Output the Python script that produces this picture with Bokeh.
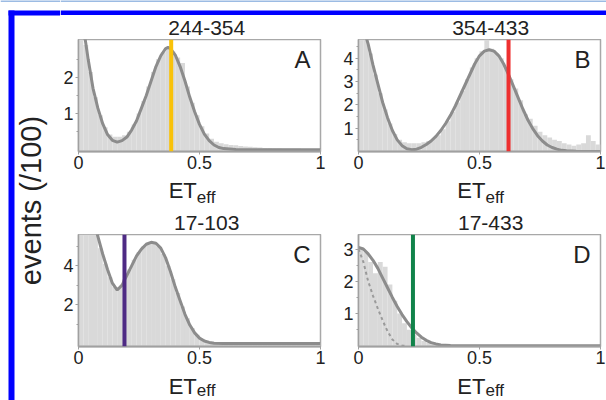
import math
from bokeh.plotting import figure
from bokeh.layouts import row, column
from bokeh.models import Range1d, FixedTicker, CustomJSTickFormatter, Label, Span
from bokeh.embed import file_html
from bokeh.resources import INLINE
from bokeh.core.properties import value

FONT = "Liberation Sans"
TXT = "#222222"

# ---------------- data ----------------
BIN_W = 0.02
bin_centers = [round(0.01 + 0.02 * i, 2) for i in range(50)]

titles = ["244-354", "354-433", "17-103", "17-433"]
letters = ["A", "B", "C", "D"]
marker_x = [0.383, 0.62, 0.19, 0.225]
marker_colors = ["#f9c20a", "#ee3030", "#4e2a84", "#11834a"]
y_label = "events (/100)"
x_label_main = "ET"
x_label_sub = "eff"

x_ticks = [0, 0.5, 1]
y_ticks_A = [1, 2]
y_ticks_B = [1, 2, 3, 4]
y_ticks_C = [2, 4]
y_ticks_D = [1, 2, 3]

hist_A = [3.3, 2.9, 2.15, 1.45, 0.95, 0.62, 0.42, 0.36, 0.36, 0.4,
          0.5, 0.7, 1.0, 1.35, 1.75, 2.15, 2.5, 2.7, 2.8, 2.72,
          2.55, 2.4, 1.75, 1.3, 0.95, 0.65, 0.45, 0.3, 0.22, 0.18,
          0.15, 0.13, 0.12, 0.1, 0.09, 0.08, 0.07, 0.06, 0.05, 0.05,
          0.04, 0.04, 0.03, 0.03, 0.03, 0.03, 0.02, 0.02, 0.02, 0.02]
hist_B = [5.0, 5.0, 4.2, 3.3, 2.5, 1.8, 1.2, 0.75, 0.5, 0.4,
          0.35, 0.35, 0.35, 0.4, 0.45, 0.55, 0.7, 0.95, 1.3, 1.7,
          2.1, 2.6, 3.1, 3.6, 4.0, 4.3, 4.8, 4.4, 4.2, 4.0,
          3.6, 3.1, 2.7, 2.2, 1.6, 1.4, 1.1, 0.85, 0.7, 0.6,
          0.5, 0.45, 0.35, 0.3, 0.25, 0.3, 0.35, 0.7, 0.45, 0.3]
hist_C = [5.7, 5.7, 5.7, 5.6, 4.9, 4.1, 3.4, 2.9, 2.9, 3.3,
          3.8, 4.3, 4.7, 5.0, 5.15, 5.2, 5.0, 4.6, 4.0, 3.3,
          2.6, 1.9, 1.3, 0.8, 0.45, 0.25, 0.15, 0.1, 0.08, 0.07,
          0.06, 0.06, 0.06, 0.05, 0.05, 0.05, 0.05, 0.05, 0.05, 0.05,
          0.05, 0.05, 0.05, 0.05, 0.05, 0.05, 0.05, 0.05, 0.05, 0.05]
hist_D = [3.0, 2.9, 2.6, 2.25, 2.6, 2.45, 1.9, 1.4, 1.0, 0.7,
          0.5, 0.35, 0.25, 0.15, 0.1, 0.06, 0.04, 0.02, 0.01, 0.01,
          0.01, 0.01, 0.01, 0.01, 0.01, 0.01, 0.01, 0.01, 0.01, 0.01,
          0.01, 0.01, 0.01, 0.01, 0.01, 0.01, 0.01, 0.01, 0.01, 0.01,
          0.01, 0.01, 0.01, 0.01, 0.01, 0.01, 0.01, 0.01, 0.01, 0.01]

fit_x_A = [0.0, 0.02, 0.04, 0.06, 0.08, 0.10, 0.12, 0.14, 0.16, 0.18, 0.20, 0.22,
           0.24, 0.26, 0.28, 0.30, 0.32, 0.34, 0.36, 0.37, 0.38, 0.40, 0.42, 0.44,
           0.46, 0.48, 0.50, 0.52, 0.54, 0.56, 0.58, 0.60, 0.65, 0.70, 1.0]
fit_y_A = [4.3, 3.4, 2.5, 1.7, 1.15, 0.72, 0.42, 0.26, 0.21, 0.25, 0.35, 0.55,
           0.8, 1.15, 1.5, 1.9, 2.3, 2.6, 2.8, 2.83, 2.8, 2.62, 2.3, 1.9,
           1.45, 1.05, 0.7, 0.43, 0.25, 0.13, 0.06, 0.03, 0.005, 0.0, 0.0]

fit_x_B = [0.0, 0.02, 0.04, 0.06, 0.08, 0.10, 0.12, 0.14, 0.16, 0.18, 0.20, 0.22,
           0.24, 0.26, 0.28, 0.30, 0.32, 0.34, 0.36, 0.38, 0.40, 0.42, 0.44, 0.46,
           0.48, 0.50, 0.52, 0.54, 0.56, 0.58, 0.60, 0.62, 0.64, 0.66, 0.68, 0.70,
           0.72, 0.74, 0.76, 0.78, 0.80, 0.82, 0.84, 0.86, 0.90, 1.0]
fit_y_B = [6.0, 5.3, 4.6, 3.7, 2.9, 2.1, 1.45, 0.9, 0.5, 0.25, 0.12, 0.08,
           0.1, 0.18, 0.3, 0.45, 0.65, 0.9, 1.2, 1.55, 1.95, 2.4, 2.85, 3.3,
           3.75, 4.1, 4.3, 4.36, 4.3, 4.1, 3.75, 3.3, 2.8, 2.3, 1.8, 1.35,
           0.98, 0.68, 0.45, 0.28, 0.17, 0.1, 0.05, 0.03, 0.01, 0.0]

fit_x_C = [0.0, 0.02, 0.04, 0.06, 0.08, 0.10, 0.12, 0.14, 0.16, 0.18, 0.20, 0.22,
           0.24, 0.26, 0.28, 0.30, 0.32, 0.34, 0.36, 0.38, 0.40, 0.42, 0.44, 0.46,
           0.48, 0.50, 0.52, 0.54, 0.56, 0.60, 1.0]
fit_y_C = [9.0, 8.3, 7.4, 6.4, 5.5, 4.6, 3.8, 3.1, 2.75, 3.0, 3.5, 4.0,
           4.5, 4.85, 5.1, 5.2, 5.15, 4.9, 4.4, 3.7, 2.9, 2.2, 1.5, 0.95,
           0.55, 0.28, 0.13, 0.06, 0.02, 0.0, 0.0]

fit_x_D = [0.0, 0.02, 0.04, 0.06, 0.08, 0.10, 0.12, 0.14, 0.16, 0.18, 0.20, 0.22,
           0.24, 0.26, 0.28, 0.30, 0.32, 0.34, 0.38, 0.42, 1.0]
fit_y_D = [3.05, 3.0, 2.85, 2.65, 2.4, 2.1, 1.8, 1.5, 1.22, 0.97, 0.75, 0.56,
           0.4, 0.27, 0.17, 0.1, 0.06, 0.03, 0.01, 0.0, 0.0]

dash_x_D = [0.0, 0.02, 0.04, 0.06, 0.08, 0.10, 0.12, 0.14, 0.16, 0.18, 0.20]
dash_y_D = [3.0, 2.6, 2.0, 1.55, 1.15, 0.78, 0.45, 0.2, 0.06, 0.01, 0.0]

# ---------------- helpers ----------------
fmt = "return tick.toString();"


def pixfig(w, h):
    f = figure(width=w, height=h, x_range=Range1d(0, w), y_range=Range1d(0, h),
               output_backend="svg", toolbar_location=None, tools="",
               x_axis_type=None, y_axis_type=None, min_border=0)
    f.outline_line_color = None
    f.grid.visible = False
    f.background_fill_color = "white"
    f.border_fill_color = "white"
    return f


def panel(hist, fx, fy, letter, mx, mcol, yr, yticks, yminor, bl, br,
          dx=None, dy=None):
    p = figure(frame_width=242, frame_height=112,
               x_range=Range1d(0, 1), y_range=Range1d(*yr),
               output_backend="svg", toolbar_location=None, tools="",
               min_border_left=bl, min_border_right=br,
               min_border_top=0, min_border_bottom=26)
    p.grid.visible = False
    p.outline_line_color = "#a8a8a8"
    p.outline_line_width = 1.5
    p.background_fill_color = "white"
    p.border_fill_color = "white"

    p.vbar(x=bin_centers, top=hist, bottom=yr[0], width=BIN_W,
           fill_color="#d9d9d9", line_color=None)
    if dx is not None:
        p.line(dx, dy, line_color="#9a9a9a", line_width=2, line_dash="3 3")
    p.line(fx, fy, line_color="#8c8c8c", line_width=3)
    p.add_layout(Span(location=mx, dimension="height", line_color=mcol,
                      line_width=4))

    xa = p.xaxis[0]
    xa.ticker = FixedTicker(ticks=x_ticks)
    xa.formatter = CustomJSTickFormatter(code=fmt)
    ya = p.yaxis[0]
    ya.ticker = FixedTicker(ticks=yticks, minor_ticks=yminor)
    ya.formatter = CustomJSTickFormatter(code=fmt)
    for ax in (xa, ya):
        ax.axis_line_color = "#a0a0a0"
        ax.axis_line_width = 1.5
        ax.major_tick_line_color = "#a0a0a0"
        ax.minor_tick_line_color = "#a0a0a0"
        ax.major_tick_in = 0
        ax.major_tick_out = 3
        ax.minor_tick_in = 0
        ax.minor_tick_out = 2
        ax.major_label_text_font = FONT
        ax.major_label_text_font_size = "18px"
        ax.major_label_text_color = TXT
        ax.major_label_standoff = 1
    ya.major_label_standoff = 2
    xa.minor_tick_out = 0
    xa.axis_line_width = 2

    p.add_layout(Label(x=1, y=yr[1], x_offset=-10, y_offset=-20, text=letter,
                       text_align="right", text_baseline="alphabetic",
                       text_font=FONT, text_font_size="24px", text_color=TXT))
    return p


def title_fig(w, h, cx, text):
    f = pixfig(w, h)
    f.text(x=[cx], y=[11.7], text=[text], text_align="center",
           text_baseline="middle", text_font=value(FONT),
           text_font_size="21px", text_color=TXT)
    return f


def xlabel_fig(w, h, split, y_main, y_sub):
    f = pixfig(w, h)
    f.text(x=[split], y=[y_main], text=[x_label_main], text_align="right",
           text_baseline="middle", text_font=value(FONT),
           text_font_size="22px", text_color=TXT)
    f.text(x=[split], y=[y_sub], text=[x_label_sub], text_align="left",
           text_baseline="middle", text_font=value(FONT),
           text_font_size="17px", text_color=TXT)
    return f


pA = panel(hist_A, fit_x_A, fit_y_A, letters[0], marker_x[0], marker_colors[0],
           (-0.05, 3.05), y_ticks_A, [0.5, 1.5, 2.5], 18, 10)
pB = panel(hist_B, fit_x_B, fit_y_B, letters[1], marker_x[1], marker_colors[1],
           (0.0, 4.8), y_ticks_B, [0.5, 1.5, 2.5, 3.5, 4.5], 28, 8)
pC = panel(hist_C, fit_x_C, fit_y_C, letters[2], marker_x[2], marker_colors[2],
           (-0.15, 5.6), y_ticks_C, [1, 3, 5], 18, 10)
pD = panel(hist_D, fit_x_D, fit_y_D, letters[3], marker_x[3], marker_colors[3],
           (-0.02, 3.45), y_ticks_D, [0.5, 1.5, 2.5], 28, 8, dash_x_D, dash_y_D)

colA = column(title_fig(270, 24, 143, titles[0]), pA, xlabel_fig(270, 30, 132, 16.7, 9.9))
colB = column(title_fig(276, 24, 152, titles[1]), pB, xlabel_fig(276, 30, 146, 16.7, 9.9))
colC = column(title_fig(270, 27, 143, titles[2]), pC, xlabel_fig(270, 28, 132, 13.7, 10))
colD = column(title_fig(276, 27, 152, titles[3]), pD, xlabel_fig(276, 28, 146, 13.7, 10))

# left strip with the shared y label and the frame border
strip = pixfig(60, 400)
strip.quad(left=[0], right=[60], bottom=[399], top=[400], fill_color="#3a78c8", line_color=None)
strip.quad(left=[8], right=[60], bottom=[385], top=[390], fill_color="#0000ff", line_color=None)
strip.quad(left=[8], right=[14], bottom=[0], top=[390], fill_color="#0000ff", line_color=None)
strip.text(x=[30], y=[200], text=[y_label], angle=math.pi / 2,
           text_align="center", text_baseline="middle",
           text_font=value(FONT), text_font_size="29px", text_color=TXT)

topbar = pixfig(546, 15)
topbar.quad(left=[0], right=[546], bottom=[14], top=[15], fill_color="#3a78c8", line_color=None)
topbar.quad(left=[0], right=[546], bottom=[0], top=[5], fill_color="#0000ff", line_color=None)

p = row(strip, column(topbar, row(colA, colB), row(colC, colD)))

open("out.html", "w").write(file_html(p, INLINE))
